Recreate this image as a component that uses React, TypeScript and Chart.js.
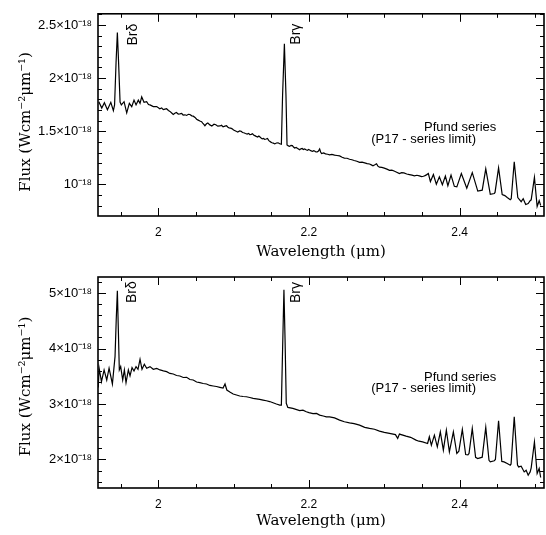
import React, { useEffect, useRef } from "react";
import { Chart, registerables } from "chart.js";

Chart.register(...registerables);

// ---------- Data (flux in units of 10^-18 W cm^-2 um^-1, wavelength in um) ----------
const wavelengthTop = [
  1.9211, 1.925, 1.9285, 1.9325, 1.937, 1.9404, 1.942, 1.944, 1.9457, 1.9473,
  1.9493, 1.951, 1.9546, 1.9581, 1.9616, 1.9648, 1.9678, 1.9705, 1.9735, 1.9758,
  1.978, 1.9811, 1.9846, 1.987, 1.989, 1.9934, 1.9979, 2.002, 2.0045, 2.0066,
  2.009, 2.011, 2.0135, 2.0155, 2.0178, 2.0199, 2.022, 2.024, 2.0265, 2.0287,
  2.031, 2.033, 2.0355, 2.0376, 2.04, 2.042, 2.0445, 2.0464, 2.0488, 2.0509,
  2.053, 2.0552, 2.0575, 2.059, 2.0605, 2.0619, 2.064, 2.0658, 2.0685, 2.0711,
  2.074, 2.0764, 2.079, 2.0817, 2.084, 2.086, 2.0885, 2.0906, 2.0925, 2.094,
  2.096, 2.0976, 2.1, 2.102, 2.104, 2.1056, 2.108, 2.11, 2.1118, 2.1135,
  2.1158, 2.118, 2.12, 2.1215, 2.1235, 2.125, 2.1265, 2.1281, 2.13, 2.132,
  2.1335, 2.1347, 2.1365, 2.138, 2.1398, 2.1413, 2.1432, 2.145, 2.1465, 2.1479,
  2.1495, 2.151, 2.1528, 2.1546, 2.1568, 2.159, 2.1612, 2.1634, 2.165, 2.1674,
  2.1695, 2.1709, 2.1727, 2.1744, 2.1762, 2.178, 2.1795, 2.1811, 2.183, 2.185,
  2.1865, 2.1877, 2.1893, 2.191, 2.1925, 2.1943, 2.1962, 2.198, 2.1995, 2.2009,
  2.203, 2.205, 2.2062, 2.2075, 2.2092, 2.211, 2.2126, 2.2142, 2.2155, 2.2168,
  2.2195, 2.222, 2.2248, 2.2274, 2.2305, 2.234, 2.2372, 2.2407, 2.244, 2.247,
  2.2505, 2.2539, 2.257, 2.26, 2.2636, 2.2672, 2.2705, 2.274, 2.2772, 2.2804,
  2.2828, 2.285, 2.2875, 2.2897, 2.2915, 2.2936, 2.2968, 2.3, 2.3035, 2.3069,
  2.31, 2.313, 2.3165, 2.3201, 2.323, 2.326, 2.3298, 2.3334, 2.3368, 2.34,
  2.3433, 2.3466, 2.3495, 2.352, 2.354, 2.3559, 2.3585, 2.3612, 2.3652, 2.3691,
  2.3731, 2.3771, 2.3811, 2.3844, 2.3886, 2.393, 2.3963, 2.4023, 2.4095, 2.4168,
  2.4241, 2.43, 2.4347, 2.4407, 2.446, 2.447, 2.4517, 2.4565, 2.46, 2.4632,
  2.4672, 2.4685, 2.4725, 2.4772, 2.4817, 2.4844, 2.4877, 2.491, 2.4936, 2.495,
  2.4993, 2.5029, 2.5056, 2.5076,
];
const fluxTop = [
  1.778, 1.718, 1.768, 1.703, 1.772, 1.694, 1.748, 2.153, 2.43, 2.153,
  1.775, 1.748, 1.778, 1.673, 1.763, 1.732, 1.793, 1.748, 1.793, 1.763,
  1.823, 1.772, 1.778, 1.752, 1.748, 1.732, 1.732, 1.712, 1.72, 1.703,
  1.708, 1.712, 1.695, 1.687, 1.672, 1.658, 1.67, 1.676, 1.662, 1.664,
  1.668, 1.653, 1.655, 1.649, 1.66, 1.658, 1.645, 1.642, 1.63, 1.613,
  1.605, 1.597, 1.59, 1.577, 1.565, 1.552, 1.57, 1.577, 1.56, 1.55,
  1.566, 1.561, 1.548, 1.55, 1.556, 1.541, 1.548, 1.552, 1.538, 1.532,
  1.53, 1.525, 1.512, 1.505, 1.498, 1.493, 1.504, 1.5, 1.488, 1.486,
  1.479, 1.473, 1.48, 1.468, 1.471, 1.477, 1.465, 1.459, 1.452, 1.446,
  1.455, 1.448, 1.436, 1.428, 1.432, 1.423, 1.427, 1.432, 1.415, 1.405,
  1.398, 1.392, 1.388, 1.381, 1.39, 1.392, 1.383, 1.378, 1.838, 2.324,
  1.838, 1.372, 1.362, 1.358, 1.368, 1.365, 1.352, 1.342, 1.348, 1.338,
  1.332, 1.327, 1.335, 1.338, 1.328, 1.333, 1.326, 1.32, 1.328, 1.324,
  1.315, 1.311, 1.318, 1.315, 1.305, 1.306, 1.314, 1.333, 1.305, 1.291,
  1.296, 1.288, 1.284, 1.279, 1.283, 1.275, 1.272, 1.268, 1.255, 1.248,
  1.246, 1.237, 1.232, 1.225, 1.218, 1.207, 1.21, 1.203, 1.196, 1.192,
  1.184, 1.176, 1.185, 1.194, 1.172, 1.162, 1.16, 1.153, 1.144, 1.132,
  1.135, 1.126, 1.115, 1.102, 1.11, 1.108, 1.098, 1.093, 1.088, 1.081,
  1.086, 1.081, 1.074, 1.077, 1.083, 1.09, 1.102, 1.027, 1.093, 1.003,
  1.072, 0.997, 1.078, 0.988, 1.087, 0.982, 0.977, 1.102, 0.964, 1.111,
  0.937, 0.946, 1.147, 0.907, 0.915, 0.925, 1.156, 0.905, 0.895, 0.877,
  0.856, 0.865, 1.213, 0.876, 0.838, 0.865, 0.811, 0.82, 0.847, 0.855,
  1.066, 0.793, 0.847, 0.802,
];

const wavelengthBottom = [
  1.9203, 1.9215, 1.9246, 1.9281, 1.9316, 1.9347, 1.9391, 1.9426, 1.9442, 1.9457,
  1.947, 1.9483, 1.9501, 1.9528, 1.955, 1.9572, 1.9603, 1.9625, 1.9652, 1.9678,
  1.9705, 1.9731, 1.9758, 1.9784, 1.9815, 1.9846, 1.989, 1.9934, 1.998, 2.0023,
  2.0068, 2.0111, 2.0155, 2.0199, 2.0243, 2.0287, 2.0332, 2.0376, 2.042, 2.0464,
  2.0509, 2.0552, 2.0596, 2.0641, 2.0685, 2.0729, 2.0773, 2.0817, 2.086, 2.0886,
  2.091, 2.095, 2.0994, 2.1038, 2.1082, 2.1126, 2.117, 2.1215, 2.1259, 2.1303,
  2.1347, 2.1391, 2.1435, 2.1479, 2.1523, 2.1568, 2.1612, 2.1634, 2.165, 2.1668,
  2.1683, 2.1699, 2.172, 2.1786, 2.1877, 2.192, 2.1965, 2.2, 2.2054, 2.21,
  2.2142, 2.219, 2.2231, 2.2274, 2.234, 2.2407, 2.247, 2.2539, 2.26, 2.2672,
  2.274, 2.2804, 2.287, 2.2936, 2.3, 2.3069, 2.3148, 2.3178, 2.3201, 2.3289,
  2.335, 2.3421, 2.346, 2.3509, 2.3575, 2.3598, 2.3625, 2.3665, 2.3704, 2.3744,
  2.3784, 2.3824, 2.3864, 2.3917, 2.3963, 2.399, 2.4036, 2.408, 2.411, 2.4125,
  2.4168, 2.4212, 2.424, 2.43, 2.4347, 2.439, 2.4407, 2.446, 2.4475, 2.4517,
  2.456, 2.459, 2.4632, 2.4672, 2.4683, 2.4725, 2.4768, 2.4784, 2.4817, 2.4857,
  2.4883, 2.491, 2.4936, 2.495, 2.4993, 2.5029, 2.5056, 2.5076,
];
const fluxBottom = [
  3.3, 3.646, 3.403, 3.615, 3.434, 3.646, 3.362, 3.855, 4.519, 5.043,
  4.338, 3.615, 3.675, 3.434, 3.615, 3.385, 3.615, 3.506, 3.656, 3.597,
  3.675, 3.627, 3.808, 3.627, 3.718, 3.646, 3.675, 3.627, 3.642, 3.615,
  3.597, 3.584, 3.552, 3.542, 3.515, 3.506, 3.479, 3.483, 3.443, 3.434,
  3.398, 3.385, 3.371, 3.362, 3.335, 3.325, 3.316, 3.302, 3.289, 3.362,
  3.253, 3.217, 3.181, 3.163, 3.145, 3.136, 3.132, 3.118, 3.103, 3.094,
  3.085, 3.072, 3.06, 3.045, 3.024, 3.0, 2.982, 2.982, 3.977, 5.061,
  4.157, 3.013, 2.94, 2.922, 2.883, 2.89, 2.861, 2.845, 2.828, 2.83,
  2.801, 2.785, 2.77, 2.77, 2.75, 2.711, 2.68, 2.662, 2.648, 2.62,
  2.58, 2.561, 2.545, 2.512, 2.488, 2.47, 2.448, 2.38, 2.458, 2.421,
  2.4, 2.349, 2.33, 2.318, 2.289, 2.409, 2.259, 2.439, 2.228, 2.499,
  2.168, 2.53, 2.137, 2.499, 2.108, 2.15, 2.542, 2.09, 2.085, 2.11,
  2.561, 2.04, 2.018, 2.042, 2.579, 1.985, 1.957, 1.978, 2.0, 2.698,
  1.965, 1.957, 1.928, 1.897, 1.92, 2.77, 1.9, 1.866, 1.879, 1.776,
  1.807, 1.716, 1.776, 1.85, 2.318, 1.747, 1.837, 1.675,
];

const xTickValues = [2, 2.2, 2.4];
const xTickLabels = ["2", "2.2", "2.4"];
const yTickValuesTop = [1, 1.5, 2, 2.5];
const yTickLabelsTop = ["10\u207B\u00B9\u2078", "1.5\u00D710\u207B\u00B9\u2078", "2\u00D710\u207B\u00B9\u2078", "2.5\u00D710\u207B\u00B9\u2078"];
const yTickValuesBottom = [2, 3, 4, 5];
const yTickLabelsBottom = ["2\u00D710\u207B\u00B9\u2078", "3\u00D710\u207B\u00B9\u2078", "4\u00D710\u207B\u00B9\u2078", "5\u00D710\u207B\u00B9\u2078"];

const X_TITLE = "Wavelength (\u03BCm)";
const Y_TITLE = "Flux (Wcm\u207B\u00B2\u03BCm\u207B\u00B9)";

// ---------- Styles ----------
const SANS = "'Liberation Sans', Arial, Helvetica, sans-serif";
const SERIF = "'DejaVu Serif', 'Liberation Serif', serif";

function range(from: number, to: number, step: number): number[] {
  const out: number[] = [];
  const n = Math.round((to - from) / step);
  for (let i = 0; i <= n; i++) out.push(Math.round((from + i * step) * 1000) / 1000);
  return out;
}

const framePlugin = {
  id: "frameTicks",
  afterDatasetsDraw(chart: any, _args: any, opts: any) {
    const { ctx, chartArea: a, scales } = chart;
    const xs = scales.x;
    const ys = scales.y;
    const isMajor = (list: number[], v: number) => list.some((m) => Math.abs(m - v) < 1e-6);
    ctx.save();
    ctx.strokeStyle = "#000";
    ctx.lineWidth = 1;
    ctx.beginPath();
    for (const v of opts.xMinor) {
      if (v <= xs.min || v >= xs.max) continue;
      const p = Math.round(xs.getPixelForValue(v)) + 0.5;
      const len = isMajor(opts.xMajor, v) ? 8 : 4;
      ctx.moveTo(p, a.bottom);
      ctx.lineTo(p, a.bottom - len);
      ctx.moveTo(p, a.top);
      ctx.lineTo(p, a.top + len);
    }
    for (const v of opts.yMinor) {
      if (v <= ys.min || v >= ys.max) continue;
      const p = Math.round(ys.getPixelForValue(v)) + 0.5;
      const len = isMajor(opts.yMajor, v) ? 8 : 4;
      ctx.moveTo(a.left, p);
      ctx.lineTo(a.left + len, p);
      ctx.moveTo(a.right, p);
      ctx.lineTo(a.right - len, p);
    }
    ctx.stroke();
    ctx.lineWidth = 1.6;
    ctx.strokeRect(a.left, a.top, a.right - a.left, a.bottom - a.top);
    ctx.restore();
  },
};

const textPlugin = {
  id: "labels",
  afterDraw(chart: any, _args: any, opts: any) {
    const { ctx, chartArea: a, scales } = chart;
    ctx.save();
    ctx.fillStyle = "#000";
    for (const t of opts.items) {
      const px = scales.x.getPixelForValue(t.x);
      const py = scales.y.getPixelForValue(t.y);
      ctx.font = `${t.size}px ${SANS}`;
      ctx.textBaseline = "middle";
      if (t.rotate) {
        ctx.save();
        ctx.translate(px, py);
        ctx.rotate(-Math.PI / 2);
        ctx.textAlign = "left";
        ctx.fillText(t.text, 0, 0);
        ctx.restore();
      } else {
        ctx.textAlign = "center";
        ctx.fillText(t.text, px, py);
      }
    }
    // y axis title
    ctx.save();
    ctx.font = `15px ${SERIF}`;
    ctx.textAlign = "center";
    ctx.textBaseline = "middle";
    ctx.translate(opts.yTitleX, (a.top + a.bottom) / 2 + opts.yTitleShift);
    ctx.rotate(-Math.PI / 2);
    ctx.fillText(Y_TITLE, 0, 0);
    ctx.restore();
    ctx.restore();
  },
};

type Panel = {
  wl: number[];
  flux: number[];
  yMin: number;
  yMax: number;
  yTicks: number[];
  yLabels: string[];
  yMinorStep: number;
  padTop: number;
  xAxisHeight: number;
  xTitlePadBottom: number;
  yTitleShift: number;
  items: any[];
};

function buildConfig(p: Panel): any {
  const n = Math.min(p.wl.length, p.flux.length);
  return {
    type: "line",
    data: {
      datasets: [
        {
          data: p.wl.slice(0, n).map((w, i) => ({ x: w, y: p.flux[i] })),
          borderColor: "#000",
          borderWidth: 1.2,
          pointRadius: 0,
          tension: 0,
          fill: false,
        },
      ],
    },
    options: {
      responsive: false,
      animation: false,
      events: [],
      layout: { padding: { top: p.padTop, right: 2, left: 0, bottom: 0 } },
      plugins: {
        legend: { display: false },
        tooltip: { enabled: false },
        frameTicks: {
          xMajor: xTickValues,
          xMinor: range(1.9, 2.55, 0.05),
          yMajor: p.yTicks,
          yMinor: range(0, 6, p.yMinorStep),
        },
        labels: { items: p.items, yTitleX: 26, yTitleShift: p.yTitleShift },
      },
      scales: {
        x: {
          type: "linear",
          min: 1.92,
          max: 2.512,
          grid: { display: false, drawTicks: false },
          border: { display: false },
          afterBuildTicks: (s: any) => {
            s.ticks = xTickValues.map((v) => ({ value: v }));
          },
          afterFit: (s: any) => {
            s.height = p.xAxisHeight;
          },
          ticks: {
            autoSkip: false,
            maxRotation: 0,
            padding: 9,
            color: "#000",
            font: { family: SANS, size: 12 },
            callback: (_v: any, i: number) => xTickLabels[i],
          },
          title: {
            display: true,
            text: X_TITLE,
            color: "#000",
            font: { family: SERIF, size: 15 },
            padding: { top: 0, bottom: p.xTitlePadBottom },
          },
        },
        y: {
          type: "linear",
          min: p.yMin,
          max: p.yMax,
          grid: { display: false, drawTicks: false },
          border: { display: false },
          afterBuildTicks: (s: any) => {
            s.ticks = p.yTicks.map((v) => ({ value: v }));
          },
          afterFit: (s: any) => {
            s.width = 98;
          },
          ticks: {
            autoSkip: false,
            padding: 6,
            color: "#000",
            font: { family: SANS, size: 13 },
            callback: (_v: any, i: number) => p.yLabels[i],
          },
        },
      },
    },
    plugins: [framePlugin, textPlugin],
  };
}

const topPanel: Panel = {
  wl: wavelengthTop,
  flux: fluxTop,
  yMin: 0.703,
  yMax: 2.605,
  yTicks: yTickValuesTop,
  yLabels: yTickLabelsTop,
  yMinorStep: 0.1,
  padTop: 5,
  xAxisHeight: 46,
  xTitlePadBottom: 1,
  yTitleShift: 7,
  items: [
    { text: "Br\u03B4", x: 1.9669, y: 2.306, rotate: true, size: 14 },
    { text: "Br\u03B3", x: 2.183, y: 2.315, rotate: true, size: 14 },
    { text: "Pfund series", x: 2.4007, y: 1.532, size: 13 },
    { text: "(P17 - series limit)", x: 2.3522, y: 1.423, size: 13 },
  ],
};

const bottomPanel: Panel = {
  wl: wavelengthBottom,
  flux: fluxBottom,
  yMin: 1.486,
  yMax: 5.291,
  yTicks: yTickValuesBottom,
  yLabels: yTickLabelsBottom,
  yMinorStep: 0.2,
  padTop: 15,
  xAxisHeight: 47,
  xTitlePadBottom: 5,
  yTitleShift: 4,
  items: [
    { text: "Br\u03B4", x: 1.9656, y: 4.821, rotate: true, size: 14 },
    { text: "Br\u03B3", x: 2.1824, y: 4.821, rotate: true, size: 14 },
    { text: "Pfund series", x: 2.4007, y: 3.483, size: 13 },
    { text: "(P17 - series limit)", x: 2.3522, y: 3.284, size: 13 },
  ],
};

function PanelChart({ panel, top, height }: { panel: Panel; top: number; height: number }) {
  const ref = useRef<HTMLCanvasElement | null>(null);
  useEffect(() => {
    if (!ref.current) return;
    const chart = new Chart(ref.current, buildConfig(panel));
    return () => chart.destroy();
  }, [panel]);
  return (
    <canvas
      ref={ref}
      width={546}
      height={height}
      style={{ position: "absolute", left: 0, top, width: 546, height }}
    />
  );
}

export default function App() {
  return (
    <div style={{ position: "absolute", left: 0, top: 0, width: 546, height: 535, background: "#fff" }}>
      <PanelChart panel={topPanel} top={0} height={262} />
      <PanelChart panel={bottomPanel} top={262} height={273} />
    </div>
  );
}
